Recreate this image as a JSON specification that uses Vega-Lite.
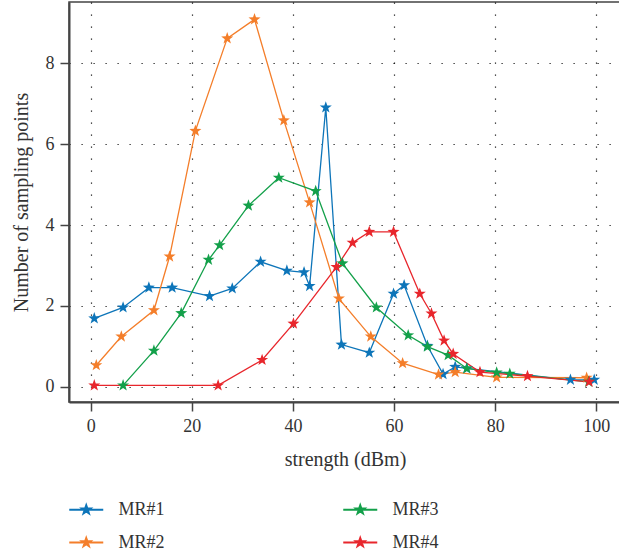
{
  "$schema": "https://vega.github.io/schema/vega-lite/v6.json",
  "autosize": "none",
  "width": 552,
  "height": 400,
  "padding": {"left": 69, "top": 2, "right": 0, "bottom": 152},
  "background": "white",
  "data": {
    "values": [
      {"mr": "MR#1", "dbm": 0.7, "cnt": 1.69},
      {"mr": "MR#1", "dbm": 6.4, "cnt": 1.96},
      {"mr": "MR#1", "dbm": 11.5, "cnt": 2.45},
      {"mr": "MR#1", "dbm": 16.1, "cnt": 2.45},
      {"mr": "MR#1", "dbm": 23.5, "cnt": 2.24},
      {"mr": "MR#1", "dbm": 28.0, "cnt": 2.43},
      {"mr": "MR#1", "dbm": 33.6, "cnt": 3.09},
      {"mr": "MR#1", "dbm": 38.8, "cnt": 2.87},
      {"mr": "MR#1", "dbm": 42.2, "cnt": 2.83},
      {"mr": "MR#1", "dbm": 43.3, "cnt": 2.49},
      {"mr": "MR#1", "dbm": 46.5, "cnt": 6.91},
      {"mr": "MR#1", "dbm": 49.6, "cnt": 1.04},
      {"mr": "MR#1", "dbm": 55.1, "cnt": 0.84},
      {"mr": "MR#1", "dbm": 59.9, "cnt": 2.30},
      {"mr": "MR#1", "dbm": 62.0, "cnt": 2.51},
      {"mr": "MR#1", "dbm": 66.6, "cnt": 1.01},
      {"mr": "MR#1", "dbm": 69.7, "cnt": 0.31},
      {"mr": "MR#1", "dbm": 72.1, "cnt": 0.49},
      {"mr": "MR#1", "dbm": 74.4, "cnt": 0.45},
      {"mr": "MR#1", "dbm": 94.9, "cnt": 0.17},
      {"mr": "MR#1", "dbm": 99.6, "cnt": 0.17},
      {"mr": "MR#2", "dbm": 1.1, "cnt": 0.53},
      {"mr": "MR#2", "dbm": 6.05, "cnt": 1.24},
      {"mr": "MR#2", "dbm": 12.5, "cnt": 1.89},
      {"mr": "MR#2", "dbm": 15.6, "cnt": 3.22},
      {"mr": "MR#2", "dbm": 20.7, "cnt": 6.33},
      {"mr": "MR#2", "dbm": 27.0, "cnt": 8.62},
      {"mr": "MR#2", "dbm": 32.4, "cnt": 9.09},
      {"mr": "MR#2", "dbm": 38.2, "cnt": 6.59},
      {"mr": "MR#2", "dbm": 43.3, "cnt": 4.56},
      {"mr": "MR#2", "dbm": 49.1, "cnt": 2.18},
      {"mr": "MR#2", "dbm": 55.4, "cnt": 1.24},
      {"mr": "MR#2", "dbm": 61.7, "cnt": 0.58},
      {"mr": "MR#2", "dbm": 68.8, "cnt": 0.30},
      {"mr": "MR#2", "dbm": 72.1, "cnt": 0.36},
      {"mr": "MR#2", "dbm": 80.3, "cnt": 0.23},
      {"mr": "MR#2", "dbm": 98.1, "cnt": 0.22},
      {"mr": "MR#3", "dbm": 6.4, "cnt": 0.03},
      {"mr": "MR#3", "dbm": 12.5, "cnt": 0.89},
      {"mr": "MR#3", "dbm": 17.9, "cnt": 1.82},
      {"mr": "MR#3", "dbm": 23.3, "cnt": 3.14},
      {"mr": "MR#3", "dbm": 25.5, "cnt": 3.50},
      {"mr": "MR#3", "dbm": 31.2, "cnt": 4.48},
      {"mr": "MR#3", "dbm": 37.2, "cnt": 5.17},
      {"mr": "MR#3", "dbm": 44.5, "cnt": 4.84},
      {"mr": "MR#3", "dbm": 49.8, "cnt": 3.05},
      {"mr": "MR#3", "dbm": 56.5, "cnt": 1.96},
      {"mr": "MR#3", "dbm": 62.8, "cnt": 1.27},
      {"mr": "MR#3", "dbm": 66.6, "cnt": 0.99},
      {"mr": "MR#3", "dbm": 70.7, "cnt": 0.78},
      {"mr": "MR#3", "dbm": 74.4, "cnt": 0.45},
      {"mr": "MR#3", "dbm": 80.3, "cnt": 0.35},
      {"mr": "MR#3", "dbm": 82.9, "cnt": 0.32},
      {"mr": "MR#3", "dbm": 98.5, "cnt": 0.12},
      {"mr": "MR#4", "dbm": 0.7, "cnt": 0.03},
      {"mr": "MR#4", "dbm": 25.2, "cnt": 0.03},
      {"mr": "MR#4", "dbm": 33.9, "cnt": 0.66},
      {"mr": "MR#4", "dbm": 40.1, "cnt": 1.56},
      {"mr": "MR#4", "dbm": 48.6, "cnt": 2.96},
      {"mr": "MR#4", "dbm": 51.8, "cnt": 3.56},
      {"mr": "MR#4", "dbm": 55.1, "cnt": 3.83},
      {"mr": "MR#4", "dbm": 59.9, "cnt": 3.83},
      {"mr": "MR#4", "dbm": 65.1, "cnt": 2.30},
      {"mr": "MR#4", "dbm": 67.4, "cnt": 1.81},
      {"mr": "MR#4", "dbm": 69.9, "cnt": 1.14},
      {"mr": "MR#4", "dbm": 71.7, "cnt": 0.81},
      {"mr": "MR#4", "dbm": 77.0, "cnt": 0.36},
      {"mr": "MR#4", "dbm": 86.4, "cnt": 0.26},
      {"mr": "MR#4", "dbm": 98.6, "cnt": 0.12}
    ]
  },
  "mark": {
    "type": "line",
    "strokeWidth": 1.3,
    "point": {
      "shape": "M0,-1L0.235,-0.324L0.951,-0.309L0.38,0.124L0.588,0.809L0,0.4L-0.588,0.809L-0.38,0.124L-0.951,-0.309L-0.235,-0.324Z",
      "size": 160,
      "filled": true
    }
  },
  "encoding": {
    "x": {
      "field": "dbm",
      "type": "quantitative",
      "scale": {"domain": [-4.3, 104.9], "nice": false, "zero": false},
      "axis": {"values": [0, 20, 40, 60, 80, 100], "title": "strength (dBm)", "titlePadding": 14}
    },
    "y": {
      "field": "cnt",
      "type": "quantitative",
      "scale": {"domain": [-0.38, 9.52], "nice": false, "zero": false},
      "axis": {"values": [0, 2, 4, 6, 8], "title": "Number of sampling points", "titlePadding": 14}
    },
    "color": {
      "field": "mr",
      "type": "nominal",
      "scale": {
        "domain": ["MR#1", "MR#3", "MR#2", "MR#4"],
        "range": ["#0d75b9", "#13a04a", "#f47e2a", "#e8262c"]
      },
      "legend": {
        "title": null,
        "orient": "none",
        "legendX": 5.75,
        "legendY": 496,
        "direction": "horizontal",
        "columns": 2,
        "columnPadding": 174,
        "rowPadding": 12,
        "padding": 0,
        "labelOffset": 20.75,
        "symbolSize": 400,
        "symbolStrokeWidth": 2.2,
        "symbolType": "M-1.7,0L1.7,0M0,-0.42L0.099,-0.136L0.4,-0.13L0.16,0.052L0.247,0.34L0,0.168L-0.247,0.34L-0.16,0.052L-0.4,-0.13L-0.099,-0.136Z",
        "labelFont": "Liberation Serif",
        "labelFontSize": 18,
        "labelColor": "#333"
      }
    }
  },
  "config": {
    "view": {"stroke": "#444", "strokeWidth": 1.5},
    "axis": {
      "labelFont": "Liberation Serif",
      "labelFontSize": 18,
      "labelColor": "#333",
      "titleFont": "Liberation Serif",
      "titleFontSize": 20,
      "titleFontWeight": "normal",
      "titleColor": "#333",
      "domainColor": "#444",
      "domainWidth": 2,
      "tickColor": "#444",
      "tickWidth": 1.5,
      "tickSize": 9,
      "labelPadding": 6,
      "grid": true,
      "gridColor": "#000",
      "gridWidth": 1.2,
      "gridDash": [1.2, 10.8],
      "gridOpacity": 0.9
    }
  }
}
